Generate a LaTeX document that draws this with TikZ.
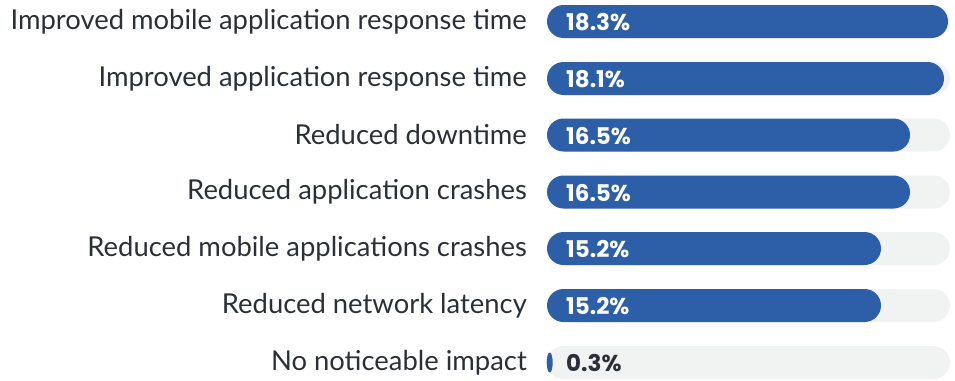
\documentclass[tikz,border=0pt]{standalone}
\usepackage{fontspec}
\setmainfont{Lato}
\newfontfamily\valuefont{Poppins}[BoldFont={* Bold}]
\definecolor{barblue}{HTML}{2C5FA7}
\definecolor{tracktone}{HTML}{F1F2F2}
\definecolor{labelink}{HTML}{2B2F38}
\begin{document}
\begin{tikzpicture}[x=1pt,y=-1pt,
  catlabel/.style={anchor=east,inner sep=0pt,text=labelink,font=\fontsize{27.4}{27.4}\selectfont},
  track/.style={fill=tracktone,rounded corners=16.5pt},
  bar/.style={fill=barblue,rounded corners=16.5pt},
  vallabel/.style={anchor=west,inner sep=0pt,text=white,font=\valuefont\bfseries\fontsize{23}{23}\selectfont},
  darkval/.style={vallabel,text=labelink}]
\useasboundingbox (0,0) rectangle (955,380);
% one row per category: centre y, bar end x, label, value
\foreach \yc/\xe/\txt/\val [count=\i] in {
  21.5/948/Improved mobile application response time/18.3\%,
  78.5/944/Improved application response time/18.1\%,
  135/910/Reduced downtime/16.5\%,
  192/910/Reduced application crashes/16.5\%,
  248.5/881/Reduced mobile applications crashes/15.2\%,
  305.5/881/Reduced network latency/15.2\%}{
  \fill[track] (547,\yc-16.5) rectangle (950,\yc+16.5);
  \fill[bar] (547,\yc-16.5) rectangle (\xe,\yc+16.5);
  \node[catlabel] (cat\i) at (527,\yc) {\txt};
  \node[vallabel] (val\i) at (566,\yc+1) {\val};
}
% last row: near-zero share
\fill[track] (547,362.5-16.5) rectangle (950,362.5+16.5);
\fill[barblue] (549.7,362.5) ellipse (3pt and 10pt);
\node[catlabel] (cat7) at (527,362.5) {No noticeable impact};
\node[darkval] (val7) at (566,363.5) {0.3\%};
\end{tikzpicture}
\end{document}
